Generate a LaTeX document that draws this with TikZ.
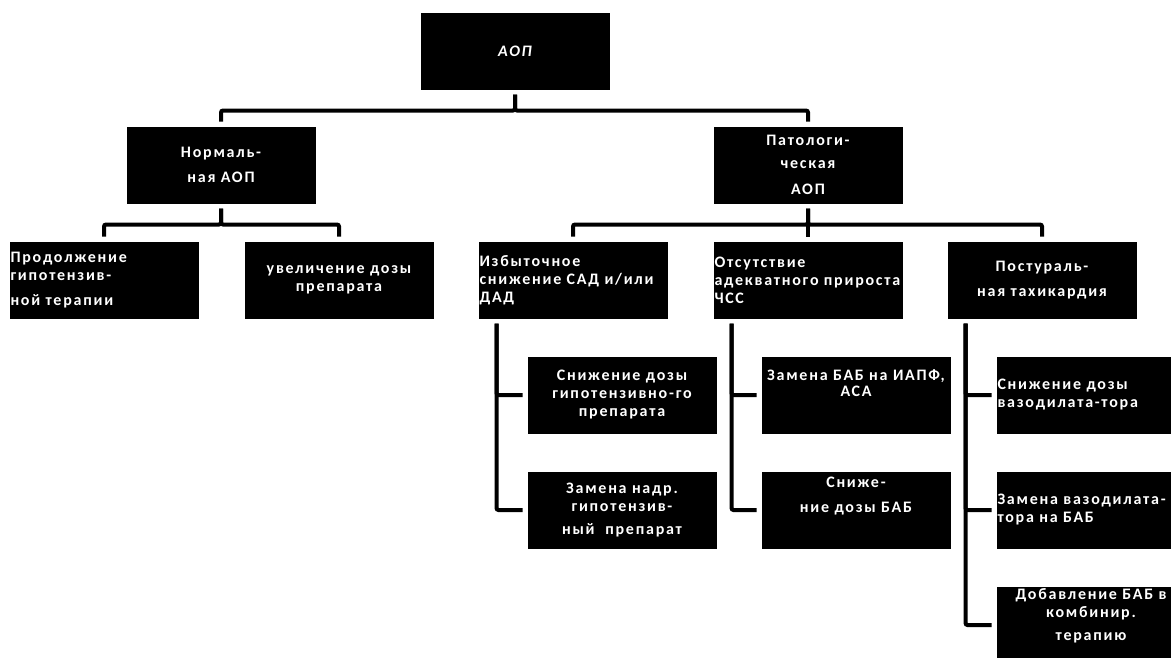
\documentclass[tikz,border=0pt]{standalone}
\usepackage{fontspec}
\setmainfont{Carlito}[LetterSpace=11]
\tikzstyle{block}=[rectangle,fill=black,text=white,minimum width=189pt,minimum height=77pt,inner sep=1pt,outer sep=0pt,font=\fontsize{16}{18}\selectfont\bfseries]
\tikzstyle{cblock}=[block,align=center]
\tikzstyle{lblock}=[block,align=left,text width=187pt]
\tikzstyle{edge}=[draw,line width=4pt,rounded corners=2pt,shorten <=5pt,shorten >=5pt]

\begin{document}
\begin{tikzpicture}[x=1pt,y=-1pt]
    \useasboundingbox (0,0) rectangle (1171,657);
    \clip (0,0) rectangle (1171,657);
    % First we draw the boxes
    \node[cblock] (aop) at (515,51) {\itshape АОП};
    \foreach \pos/\name/\txt in {{(221,165)/norm/{Нормаль-\\[7pt]ная АОП}},
        {(808,165)/pat/{Патологи-\\[5pt]ческая\\[8pt]АОП}},
        {(339,280)/uvel/{увеличение дозы\\препарата}},
        {(1042,280)/post/{Постураль-\\[7pt]ная тахикардия}},
        {(622,395)/sn1/{Снижение дозы\\гипотензивно-го\\препарата}},
        {(622,510)/zam1/{Замена надр.\\гипотензив-\\[5pt]ный\ \ препарат}},
        {(856,395)/zbab/{Замена БАБ на ИАПФ,\\[-2pt]АСА\\[6pt]}},
        {(856,510)/snbab/{Сниже-\\[7pt]ние дозы БАБ\\[12pt]}},
        {(1091,625)/dob/{Добавление БАБ в\\комбинир.\\[5pt]терапию\\[4pt]}}}
        \node[cblock] (\name) at \pos {\txt};
    \foreach \pos/\name/\txt in {{(104,280)/prod/{Продолжение\\гипотензив-\\[7pt]ной терапии}},
        {(573,280)/izb/{Избыточное\\снижение САД и/или\\ДАД}},
        {(808,280)/otsut/{Отсутствие\\адекватного прироста\\ЧСС}},
        {(1091,395)/snvaz/{Снижение дозы\\вазодилата-тора}},
        {(1091,510)/zvaz/{Замена вазодилата-\\тора на БАБ}}}
        \node[lblock] (\name) at \pos {\txt};

    % Connect boxes with tree lines
    \foreach \source/\dest in {aop/norm, aop/pat, norm/prod, norm/uvel, pat/izb, pat/otsut, pat/post}
        \path[edge] (\source.south) -- ++(0,21) -| (\dest.north);
    \foreach \source/\dest in {izb/sn1, izb/zam1, otsut/zbab, otsut/snbab, post/snvaz, post/zvaz, post/dob}
        \path[edge] ([xshift=18pt]\source.south west) |- (\dest.west);
\end{tikzpicture}
\end{document}
